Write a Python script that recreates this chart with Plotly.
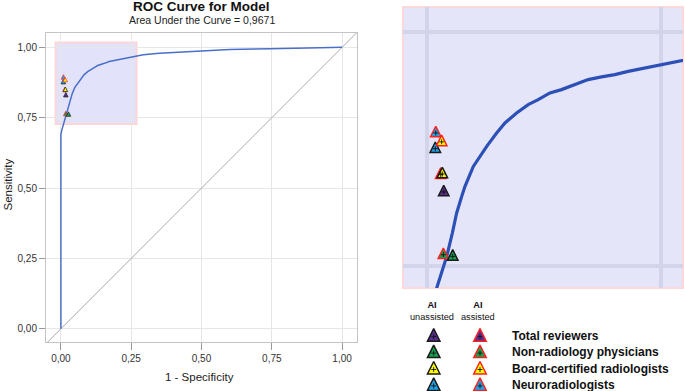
import plotly.graph_objects as go

W, H = 685, 391

# ---------------- data ----------------
roc_fpr = [0.0, 0.0, 0.003, 0.006, 0.010, 0.0155, 0.0207, 0.0267, 0.0313, 0.0367, 0.0402,
           0.0491, 0.0562, 0.0634, 0.0740, 0.0829, 0.0953, 0.1077, 0.1184, 0.1309, 0.1433,
           0.1575, 0.1717, 0.1860, 0.2002, 0.2144, 0.2322, 0.2500, 0.2713, 0.293, 0.35,
           0.42, 0.495, 0.60, 0.744, 0.838, 0.92, 1.0]
roc_tpr = [0.0, 0.69, 0.705, 0.716, 0.727, 0.745, 0.7607, 0.7857, 0.8071, 0.8248, 0.8355,
           0.8568, 0.8675, 0.8782, 0.8925, 0.9032, 0.9139, 0.9228, 0.9281, 0.9353, 0.9388,
           0.9441, 0.9495, 0.9524, 0.9548, 0.9583, 0.9619, 0.9655, 0.9698, 0.974, 0.979,
           0.983, 0.986, 0.992, 0.995, 0.998, 0.999, 1.0]
chance_x = [-0.1, 1.1]
chance_y = [-0.1, 1.1]

groups = ["Total reviewers", "Non-radiology physicians",
          "Board-certified radiologists", "Neuroradiologists"]
group_colors = ["#5a2d91", "#16a04e", "#ffff00", "#1ea2e6"]
unassisted_fpr = [0.0175, 0.0271, 0.0160, 0.0085]
unassisted_tpr = [0.8295, 0.7607, 0.8487, 0.8757]
assisted_fpr = [0.0143, 0.0171, 0.0153, 0.0090]
assisted_tpr = [0.8480, 0.7625, 0.8830, 0.8925]

title_text = "ROC Curve for Model"
subtitle_text = "Area Under the Curve = 0,9671"
tick_vals = [0, 0.25, 0.5, 0.75, 1.0]
tick_text = ["0,00", "0,25", "0,50", "0,75", "1,00"]
zoom_x = [-0.026, 0.273]
zoom_y = [0.727, 1.027]

OUT_UNASSIST = "#1a1a1a"
OUT_ASSIST = "#ff2020"

# draw order (which marker lies on top)
draw_order = [(3, "u"), (3, "a"), (2, "a"), (0, "a"), (2, "u"), (0, "u"), (1, "a"), (1, "u")]
pts_x, pts_y, pts_c, pts_l = [], [], [], []
for g, kind in draw_order:
    if kind == "u":
        pts_x.append(unassisted_fpr[g]); pts_y.append(unassisted_tpr[g]); pts_l.append(OUT_UNASSIST)
    else:
        pts_x.append(assisted_fpr[g]); pts_y.append(assisted_tpr[g]); pts_l.append(OUT_ASSIST)
    pts_c.append(group_colors[g])

def px_x(p):
    return p / W

def px_y(p):
    return 1 - p / H

fig = go.Figure()

# ---------------- left (full ROC) ----------------
fig.add_trace(go.Scatter(x=chance_x, y=chance_y, mode="lines",
                         line=dict(color="#aaaaaa", width=1), xaxis="x", yaxis="y",
                         hoverinfo="skip", showlegend=False))
fig.add_trace(go.Scatter(x=roc_fpr, y=roc_tpr, mode="lines",
                         line=dict(color="#4a6fc8", width=1.5), xaxis="x", yaxis="y",
                         showlegend=False))

def tri_trace(x, y, fill, outline, size, lw, xa, ya):
    return go.Scatter(x=x, y=y, mode="markers", xaxis=xa, yaxis=ya, showlegend=False,
                      marker=dict(symbol="arrow-down", angle=180, standoff=0.64 * size,
                                  size=size, color=fill,
                                  line=dict(color=outline, width=lw)),
                      hoverinfo="x+y")

fig.add_trace(tri_trace(pts_x, pts_y, pts_c, pts_l, 4.5, 0.7, "x", "y"))

# ---------------- right (zoomed) ----------------
fig.add_trace(go.Scatter(x=roc_fpr, y=roc_tpr, mode="lines",
                         line=dict(color="#2c50b6", width=3.2), xaxis="x2", yaxis="y2",
                         showlegend=False))
fig.add_trace(tri_trace(pts_x, pts_y, pts_c, pts_l, 10.5, 1.5, "x2", "y2"))
fig.add_trace(go.Scatter(x=pts_x, y=pts_y, mode="markers", xaxis="x2", yaxis="y2",
                         showlegend=False, hoverinfo="skip",
                         marker=dict(symbol="cross-thin", size=3.5,
                                     line=dict(color="#111111", width=0.9))))

# ---------------- custom legend ----------------
leg_x_un, leg_x_as = 433.7, 480.0
row0, row_gap = 336.7, 16.4
rows = [row0 + i * row_gap for i in range(len(groups))]
fig.add_trace(tri_trace([leg_x_un] * len(groups), rows, group_colors,
                        [OUT_UNASSIST] * len(groups), 12.5, 1.5, "x3", "y3"))
fig.add_trace(tri_trace([leg_x_as] * len(groups), rows, group_colors,
                        [OUT_ASSIST] * len(groups), 12.5, 1.5, "x3", "y3"))
fig.add_trace(go.Scatter(x=[leg_x_un] * len(groups) + [leg_x_as] * len(groups),
                         y=rows + rows, mode="markers", xaxis="x3", yaxis="y3",
                         showlegend=False, hoverinfo="skip",
                         marker=dict(symbol="cross-thin", size=3.5,
                                     line=dict(color="#111111", width=0.9))))

annotations = [
    dict(text="<b>" + title_text + "</b>", x=px_x(201.5), y=px_y(6.5), xref="paper", yref="paper",
         showarrow=False, font=dict(size=13.5, color="#111111", family="Liberation Sans"),
         xanchor="center", yanchor="middle"),
    dict(text=subtitle_text, x=px_x(202), y=px_y(20.5), xref="paper", yref="paper",
         showarrow=False, font=dict(size=10.5, color="#222222", family="Liberation Sans"),
         xanchor="center", yanchor="middle"),
    dict(text="1 - Specificity", x=px_x(200), y=px_y(376.5), xref="paper", yref="paper",
         showarrow=False, font=dict(size=11.5, color="#222222", family="Liberation Sans"),
         xanchor="center", yanchor="middle"),
    dict(text="Sensitivity", x=px_x(7.5), y=px_y(185), xref="paper", yref="paper",
         showarrow=False, textangle=-90,
         font=dict(size=11.5, color="#222222", family="Liberation Sans"),
         xanchor="center", yanchor="middle"),
    dict(text="<b>AI</b><br>unassisted", x=leg_x_un - 1.5, y=310.5, xref="x3", yref="y3",
         showarrow=False, yanchor="middle",
         font=dict(size=9.2, color="#111111", family="Liberation Sans")),
    dict(text="<b>AI</b><br>assisted", x=leg_x_as - 2, y=310.5, xref="x3", yref="y3",
         showarrow=False, yanchor="middle",
         font=dict(size=9.2, color="#111111", family="Liberation Sans")),
]
for g, yv in zip(groups, rows):
    annotations.append(dict(text="<b>" + g + "</b>", x=510, y=yv - 1, xref="x3", yref="y3",
                            showarrow=False, xanchor="left", yanchor="middle",
                            font=dict(size=12, color="#111111", family="Liberation Sans")))

shapes = [
    # highlighted zoom region on the full ROC plot
    dict(type="rect", xref="x", yref="y", x0=-0.019, x1=0.269, y0=0.7275, y1=1.017,
         fillcolor="#e2e2fb", line=dict(color="#fcd6d6", width=2), layer="below"),
    # zoom panel background
    dict(type="rect", xref="x2 domain", yref="y2 domain", x0=0, x1=1, y0=0, y1=1,
         fillcolor="#e5e5fa", line=dict(color="#fcd8d8", width=2), layer="below"),
]

axis_font = dict(size=10, color="#333333", family="Liberation Sans")
fig.update_layout(
    width=W, height=H, margin=dict(l=0, r=0, t=0, b=0),
    paper_bgcolor="white", plot_bgcolor="white",
    annotations=annotations, shapes=shapes, showlegend=False,
    xaxis=dict(domain=[px_x(46), px_x(357)], range=[-0.053, 1.053],
               tickvals=tick_vals, ticktext=tick_text, ticks="outside", ticklen=7,
               tickcolor="#999999", showline=True, mirror=True, linecolor="#c4c4c4",
               gridcolor="#e6e6e6", zeroline=False, tickfont=axis_font, anchor="y"),
    yaxis=dict(domain=[px_y(342), px_y(33)], range=[-0.047, 1.051],
               tickvals=tick_vals, ticktext=tick_text, ticks="outside", ticklen=6,
               tickcolor="#999999", showline=True, mirror=True, linecolor="#c4c4c4",
               gridcolor="#e6e6e6", zeroline=False, tickfont=axis_font, anchor="x"),
    xaxis2=dict(domain=[px_x(403), px_x(683)], range=zoom_x, tickvals=[0, 0.25],
                showticklabels=False, ticks="", showline=False, zeroline=False,
                gridcolor="#d3d3e9", gridwidth=4, anchor="y2"),
    yaxis2=dict(domain=[px_y(288), px_y(7)], range=zoom_y, tickvals=[0.75, 1.0],
                showticklabels=False, ticks="", showline=False, zeroline=False,
                gridcolor="#d3d3e9", gridwidth=4, anchor="x2"),
    xaxis3=dict(domain=[px_x(395), 1], range=[395, 685], visible=False, anchor="y3"),
    yaxis3=dict(domain=[0, px_y(290)], range=[391, 290], visible=False, anchor="x3"),
)

fig.write_html("out.html", config={"displayModeBar": False},
               post_script="document.body.style.margin='0';document.body.style.overflow='hidden';")
